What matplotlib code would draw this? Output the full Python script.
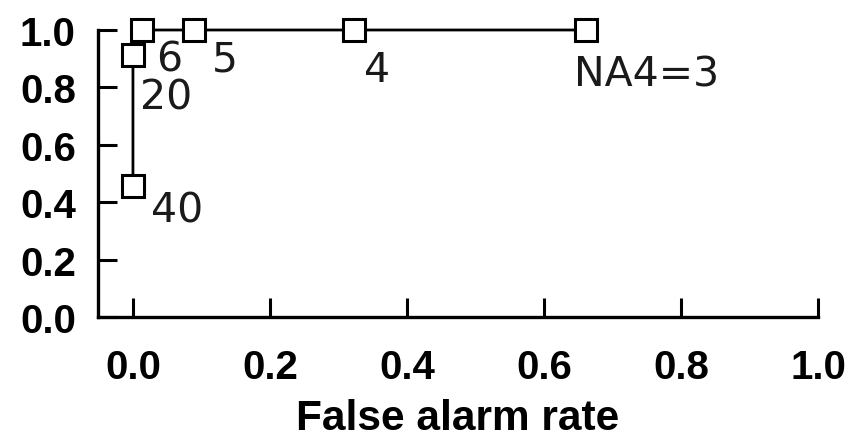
import numpy as np
import matplotlib.pyplot as plt

# ROC-style points, one per threshold
false_alarm = [0.0, 0.0, 0.013, 0.089, 0.322, 0.661]
hit_rate = [0.455, 0.913, 1.0, 1.0, 1.0, 1.0]
point_labels = ['40', '20', '6', '5', '4', 'NA4=3']
# label offsets from the marker centre, in pixels
label_dx = [18, 7, 14, 18, 10, -12]
label_dy = [-24, -43, -30, -30, -40, -45]

ticks = [0.0, 0.2, 0.4, 0.6, 0.8, 1.0]

plt.rcParams['font.family'] = ['Liberation Sans', 'DejaVu Sans']

fig = plt.figure(figsize=(8.62, 4.39), dpi=100)
ax = fig.add_axes([0.1137, 0.2756, 0.949 - 0.1137, 0.9294 - 0.2756])

ax.plot(false_alarm, hit_rate, color='black', lw=2.0, marker='s', ms=16.5,
        mfc='white', mec='black', mew=2.2, clip_on=False, zorder=3)

for x, y, lab, dx, dy in zip(false_alarm, hit_rate, point_labels, label_dx, label_dy):
    ax.annotate(lab, (x, y), xytext=(dx, dy), textcoords='offset pixels',
                ha='left', va='center', fontsize=29.5, family='DejaVu Sans',
                fontweight='normal', color='#1a1a1a')

ax.set_xlim(-0.051, 1.0)
ax.set_ylim(0.0, 1.0)
ax.set_xticks(ticks)
ax.set_yticks(ticks)
ax.set_xticklabels([f'{t:.1f}' for t in ticks], fontsize=29, fontweight='bold')
ax.set_yticklabels([f'{t:.1f}' for t in ticks], fontsize=29, fontweight='bold')
ax.tick_params(axis='both', direction='in', length=14, width=2.2)
ax.tick_params(axis='x', pad=22)
ax.tick_params(axis='y', pad=16)

ax.spines['top'].set_visible(False)
ax.spines['right'].set_visible(False)
for s in ['left', 'bottom']:
    ax.spines[s].set_linewidth(2.4)

ax.set_xlabel('False alarm rate', fontsize=30.5, fontweight='bold', labelpad=9)

fig.savefig('out.png', dpi=100)
